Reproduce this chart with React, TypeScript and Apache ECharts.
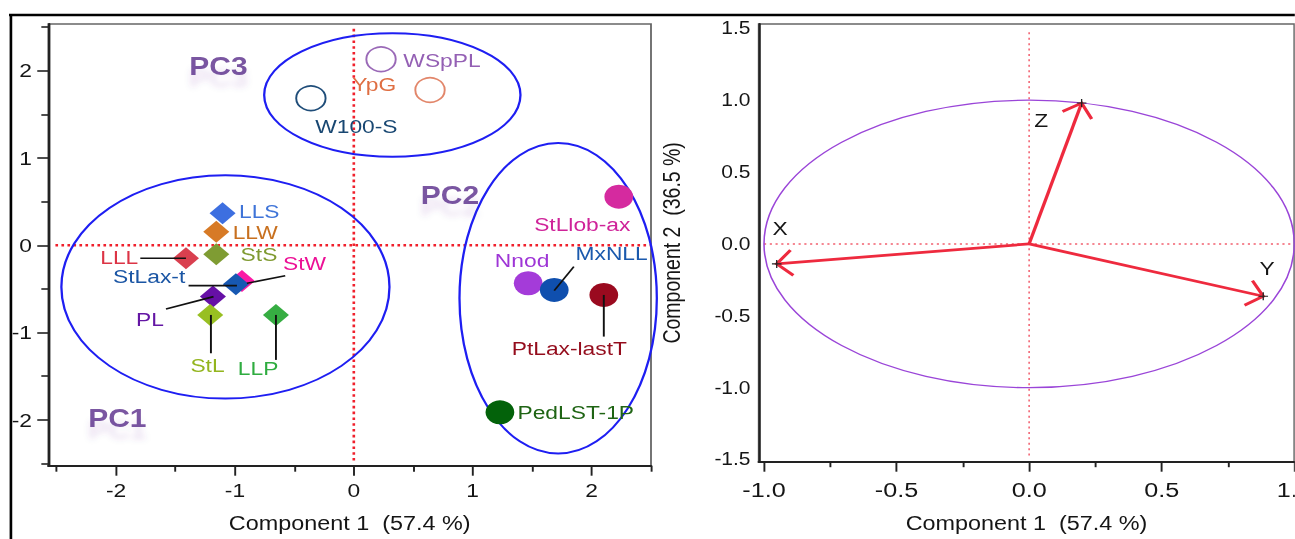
import React, { useEffect, useRef } from "react";
import * as echarts from "echarts";

// ---------- data ----------
const diamondNames = ["LLS", "LLW", "StS", "LLL", "StW", "StLax-t", "PL", "StL", "LLP"];
const diamondX = [-1.104, -1.157, -1.157, -1.412, -0.941, -0.992, -1.185, -1.208, -0.655];
const diamondY = [0.367, 0.156, -0.103, -0.148, -0.408, -0.446, -0.588, -0.798, -0.798];

const solidNames = ["StLlob-ax", "Nnod", "MxNLL", "PtLax-lastT", "PedLST-1P"];
const solidX = [2.229, 1.467, 1.686, 2.103, 1.229];
const solidY = [0.557, -0.435, -0.511, -0.569, -1.913];

const hollowNames = ["WSpPL", "YpG", "W100-S"];
const hollowX = [0.229, 0.641, -0.361];
const hollowY = [2.131, 1.779, 1.684];

const groupNames = ["PC1", "PC2", "PC3"];
const groupLabelX = [-1.989, 0.809, -1.138];
const groupLabelY = [-1.981, 0.577, 2.046];
// [centre x, centre y, radius x, radius y] in data units
const groupEllipses = [
  [-1.08, -0.477, 1.38, 1.279],
  [1.719, -0.607, 0.83, 1.779],
  [0.324, 1.722, 1.078, 0.707],
];
// leader lines [x1, y1, x2, y2]
const leaderLines = [
  [-1.796, -0.148, -1.412, -0.148],
  [-1.39, -0.462, -0.983, -0.462],
  [-0.577, -0.348, -0.899, -0.435],
  [-1.58, -0.729, -1.18, -0.588],
  [-1.202, -0.798, -1.202, -1.237],
  [-0.655, -0.798, -0.655, -1.313],
  [1.851, -0.245, 1.686, -0.519],
  [2.103, -0.569, 2.103, -1.046],
];
const leftZeroH = [[-2.51, 0], [2.49, 0]];
const leftZeroV = [[0, 2.48], [0, -2.5]];

const loadingNames = ["X", "Y", "Z"];
const loadingX = [-0.952, 0.883, 0.198];
const loadingY = [-0.139, -0.364, 0.98];
const unitCircle = [[0, 0, 1, 1]];
const rightZeroH = [[-1.0, 0], [0.99, 0]];
const rightZeroV = [[0, 1.472], [0, -1.488]];

const leftXMajor = [-2, -1, 0, 1, 2];
const leftXMinor = [-2.5, -1.5, -0.5, 0.5, 1.5, 2.5];
const leftYMajor = [-2, -1, 0, 1, 2];
const leftYMinor = [-2.5, -1.5, -0.5, 0.5, 1.5, 2.5];
const rightXMajor = [-1, -0.5, 0, 0.5, 1];
const rightXMinor = [-0.75, -0.25, 0.25, 0.75];
const rightYLabels = [-1.5, -1, -0.5, 0, 0.5, 1, 1.5];

const xTitle = "Component 1  (57.4 %)";
const yTitleRight = "Component 2  (36.5 %)";

// ---------- styles / layout ----------
const S = 1.2; // horizontal stretch of the reference
const W = 1295 / S;
const FONT = '"Liberation Sans", Arial, Helvetica, sans-serif';
const TXT = "#151515";

const markerColors: Record<string, string> = {
  LLS: "#3d6fe0", LLW: "#d77a26", StS: "#7f9c33", LLL: "#d9404f", StW: "#fb1aa5",
  "StLax-t": "#1758b2", PL: "#6610a6", StL: "#98bf22", LLP: "#36ad42",
  "StLlob-ax": "#d52a9f", Nnod: "#a43bd9", MxNLL: "#0f4fae", "PtLax-lastT": "#9a0a1f",
  "PedLST-1P": "#03620a", WSpPL: "#9a69b7", YpG: "#e2866a", "W100-S": "#1f4d79",
};
const textColors: Record<string, string> = {
  LLS: "#3f74d8", LLW: "#c8701f", StS: "#7f9a30", LLL: "#dc3445", StW: "#ec1096",
  "StLax-t": "#1a55a4", PL: "#6416a4", StL: "#93b51e", LLP: "#2fac40",
  "StLlob-ax": "#cf2399", Nnod: "#9e35d6", MxNLL: "#1a59ad", "PtLax-lastT": "#940c1c",
  "PedLST-1P": "#1f6414", WSpPL: "#9460b4", YpG: "#df6e42", "W100-S": "#184772",
};
const labelOffsets: Record<string, [number, number]> = {
  LLS: [30.6, -2.3], LLW: [32.5, 0.8], StS: [35.6, -0.5], LLL: [-55.6, -1],
  StW: [52.1, -17.7], "StLax-t": [-72.3, -7.6], PL: [-52.5, 22.3], StL: [-2.25, 50],
  LLP: [-14.9, 53.3], "StLlob-ax": [-30.4, 27.3], Nnod: [-5.1, -22.6], MxNLL: [47.8, -36.7],
  "PtLax-lastT": [-28.75, 53.3], "PedLST-1P": [63.2, 0], WSpPL: [50.8, 0.7],
  YpG: [-46.5, -5.7], "W100-S": [37.9, 27.7], X: [2.8, -35.4], Y: [3.2, -28.2], Z: [-33.75, 17.2],
};

function pointItems(names: string[], xs: number[], ys: number[], hollow = false) {
  return names.map((n, i) => ({
    name: n,
    value: [xs[i], ys[i]],
    itemStyle: hollow
      ? { color: "rgba(255,255,255,0)", borderColor: markerColors[n], borderWidth: 1.6, opacity: 1 }
      : { color: markerColors[n], opacity: 1 },
    label: { color: textColors[n], offset: labelOffsets[n] },
  }));
}

const pointLabel = {
  show: true,
  position: "inside",
  formatter: "{b}",
  fontSize: 19,
  lineHeight: 16,
  fontFamily: FONT,
  align: "center",
  verticalAlign: "middle",
};

function buildOption(): any {
  const axisLineStyle = { color: "#222", width: 2 };
  const tickStyle = { color: "#222", width: 1.6 };
  const labelBase = { color: TXT, fontFamily: FONT };
  const nameStyle = { fontSize: 19.5, color: TXT, fontFamily: FONT };
  const hidden = { show: false };
  const fmt1 = (v: number) => v.toFixed(1);

  return {
    animation: false,
    backgroundColor: "#ffffff",
    grid: [
      { left: 40.25, top: 24, width: 502.25, height: 441.7, show: true, borderColor: "#666", borderWidth: 1.5, containLabel: false, outerBoundsMode: "none" },
      { left: 632.25, top: 24, width: 446.3, height: 437.7, show: true, borderColor: "#666", borderWidth: 1.5, containLabel: false, outerBoundsMode: "none" },
    ],
    xAxis: [
      {
        type: "value", gridIndex: 0, min: -2.57, max: 2.5, position: "bottom",
        axisLine: { show: true, onZero: false, lineStyle: axisLineStyle },
        axisTick: { show: true, length: 10, customValues: leftXMajor, lineStyle: tickStyle },
        axisLabel: { ...labelBase, show: true, customValues: leftXMajor, fontSize: 19, margin: 15 },
        splitLine: hidden,
        name: xTitle, nameLocation: "middle", nameGap: 47.5, nameTextStyle: nameStyle,
      },
      {
        type: "value", gridIndex: 0, min: -2.57, max: 2.5, position: "bottom",
        axisLine: { show: false, onZero: false },
        axisTick: { show: true, length: 6, customValues: leftXMinor, lineStyle: tickStyle },
        axisLabel: hidden, splitLine: hidden,
      },
      {
        type: "value", gridIndex: 1, min: -1.02, max: 1.0, position: "bottom",
        axisLine: { show: true, onZero: false, lineStyle: axisLineStyle },
        axisTick: { show: true, length: 10, customValues: rightXMajor, lineStyle: tickStyle },
        axisLabel: { ...labelBase, show: true, customValues: rightXMajor, fontSize: 21, margin: 17.5, formatter: fmt1 },
        splitLine: hidden,
        name: xTitle, nameLocation: "middle", nameGap: 52, nameTextStyle: nameStyle,
      },
      {
        type: "value", gridIndex: 1, min: -1.02, max: 1.0, position: "bottom",
        axisLine: { show: false, onZero: false },
        axisTick: { show: true, length: 5.5, customValues: rightXMinor, lineStyle: tickStyle },
        axisLabel: hidden, splitLine: hidden,
      },
    ],
    yAxis: [
      {
        type: "value", gridIndex: 0, min: -2.525, max: 2.535, position: "left",
        axisLine: { show: true, onZero: false, lineStyle: axisLineStyle },
        axisTick: { show: true, length: 9.2, customValues: leftYMajor, lineStyle: tickStyle },
        axisLabel: { ...labelBase, show: true, customValues: leftYMajor, fontSize: 19, margin: 13.6 },
        splitLine: hidden,
      },
      {
        type: "value", gridIndex: 0, min: -2.525, max: 2.535, position: "left",
        axisLine: { show: false, onZero: false },
        axisTick: { show: true, length: 5.8, customValues: leftYMinor, lineStyle: tickStyle },
        axisLabel: hidden, splitLine: hidden,
      },
      {
        type: "value", gridIndex: 1, min: -1.515, max: 1.53, position: "left",
        axisLine: { show: true, onZero: false, lineStyle: axisLineStyle },
        axisTick: { show: false },
        axisLabel: { ...labelBase, show: true, customValues: rightYLabels, fontSize: 17.5, margin: 6.8, formatter: fmt1 },
        splitLine: hidden,
        name: yTitleRight, nameLocation: "middle", nameGap: 62, nameRotate: 90, nameTextStyle: nameStyle,
      },
    ],
    graphic: [
      { type: "line", shape: { x1: 7.5, y1: 15, x2: W + 2, y2: 15 }, style: { stroke: "#000", lineWidth: 2.6 }, z: 100 },
      { type: "line", shape: { x1: 9.1, y1: 14, x2: 9.1, y2: 545 }, style: { stroke: "#000", lineWidth: 2.2 }, z: 100 },
    ],
    series: [
      // ---- left: zero reference lines
      {
        type: "line", xAxisIndex: 0, yAxisIndex: 0, data: leftZeroH, symbol: "none", silent: true, z: 1,
        lineStyle: { color: "#f0202c", width: 2.4, type: [2.2, 2.8] },
      },
      {
        type: "line", xAxisIndex: 0, yAxisIndex: 0, data: leftZeroV, symbol: "none", silent: true, z: 1,
        lineStyle: { color: "#f0202c", width: 2.2, type: [2.6, 3.2] },
      },
      // ---- left: group ellipses
      {
        type: "custom", xAxisIndex: 0, yAxisIndex: 0, data: groupEllipses, silent: true, z: 2, clip: false,
        renderItem: (_p: any, api: any) => {
          const c = api.coord([api.value(0), api.value(1)]);
          const s = api.size([api.value(2), api.value(3)]);
          return {
            type: "ellipse",
            shape: { cx: c[0], cy: c[1], rx: s[0], ry: s[1] },
            style: { fill: "none", stroke: "#1e1ef2", lineWidth: 1.9 },
          };
        },
      },
      // ---- left: markers
      {
        type: "scatter", xAxisIndex: 0, yAxisIndex: 0, symbol: "diamond", symbolSize: [21.7, 22], z: 3,
        data: pointItems(diamondNames, diamondX, diamondY), label: pointLabel,
      },
      {
        type: "scatter", xAxisIndex: 0, yAxisIndex: 0, symbol: "circle", symbolSize: 24, z: 3,
        data: pointItems(solidNames, solidX, solidY), label: pointLabel,
      },
      {
        type: "scatter", xAxisIndex: 0, yAxisIndex: 0, symbol: "circle", symbolSize: 24.5, z: 3,
        data: pointItems(hollowNames, hollowX, hollowY, true), label: pointLabel,
      },
      // ---- left: leader lines
      {
        type: "custom", xAxisIndex: 0, yAxisIndex: 0, data: leaderLines, silent: true, z: 4, clip: false,
        renderItem: (_p: any, api: any) => {
          const a = api.coord([api.value(0), api.value(1)]);
          const b = api.coord([api.value(2), api.value(3)]);
          return {
            type: "line",
            shape: { x1: a[0], y1: a[1], x2: b[0], y2: b[1] },
            style: { stroke: "#111", lineWidth: 1.6 },
          };
        },
      },
      // ---- left: group labels
      {
        type: "scatter", xAxisIndex: 0, yAxisIndex: 0, symbol: "circle", symbolSize: 1, z: 5, silent: true,
        itemStyle: { color: "rgba(0,0,0,0)" },
        data: groupNames.map((n, i) => ({ name: n, value: [groupLabelX[i], groupLabelY[i]] })),
        label: {
          show: true, position: "inside", formatter: "{b}", fontSize: 25, fontWeight: "bold",
          fontFamily: FONT, color: "#582a8a", align: "center", verticalAlign: "middle",
          textShadowColor: "rgba(91,44,140,0.16)", textShadowBlur: 6, textShadowOffsetY: 12,
        },
      },
      // ---- right: zero reference lines
      {
        type: "line", xAxisIndex: 2, yAxisIndex: 2, data: rightZeroH, symbol: "none", silent: true, z: 1,
        lineStyle: { color: "#f2606f", width: 1.4, type: [1.8, 3] },
      },
      {
        type: "line", xAxisIndex: 2, yAxisIndex: 2, data: rightZeroV, symbol: "none", silent: true, z: 1,
        lineStyle: { color: "#f2606f", width: 1.3, type: [2, 3.4] },
      },
      // ---- right: correlation circle
      {
        type: "custom", xAxisIndex: 2, yAxisIndex: 2, data: unitCircle, silent: true, z: 2, clip: false,
        renderItem: (_p: any, api: any) => {
          const c = api.coord([api.value(0), api.value(1)]);
          const s = api.size([api.value(2), api.value(3)]);
          return {
            type: "ellipse",
            shape: { cx: c[0], cy: c[1], rx: s[0], ry: s[1] },
            style: { fill: "none", stroke: "#9a45d8", lineWidth: 1.3 },
          };
        },
      },
      // ---- right: loading arrows
      {
        type: "custom", xAxisIndex: 2, yAxisIndex: 2, silent: true, z: 3, clip: false,
        data: loadingNames.map((n, i) => [loadingX[i], loadingY[i]]),
        renderItem: (_p: any, api: any) => {
          const o = api.coord([0, 0]);
          const t = api.coord([api.value(0), api.value(1)]);
          const back = Math.atan2(o[1] - t[1], o[0] - t[0]);
          const L = 18;
          const a = Math.PI / 4;
          const w1 = [t[0] + L * Math.cos(back + a), t[1] + L * Math.sin(back + a)];
          const w2 = [t[0] + L * Math.cos(back - a), t[1] + L * Math.sin(back - a)];
          const st = { stroke: "#ee2a3e", lineWidth: 2.8, fill: "none" };
          return {
            type: "group",
            children: [
              { type: "line", shape: { x1: o[0], y1: o[1], x2: t[0], y2: t[1] }, style: st },
              { type: "polyline", shape: { points: [w1, t, w2] }, style: st },
            ],
          };
        },
      },
      // ---- right: tip marks + labels
      {
        type: "scatter", xAxisIndex: 2, yAxisIndex: 2, z: 4, silent: true,
        symbol: "path://M0,5L10,5M5,0L5,10", symbolSize: 8,
        itemStyle: { color: "none", borderColor: "#222", borderWidth: 1.1, opacity: 1 },
        data: loadingNames.map((n, i) => ({ name: n, value: [loadingX[i], loadingY[i]], label: { offset: labelOffsets[n] } })),
        label: { ...pointLabel, fontSize: 19, color: TXT },
      },
    ],
  };
}

export default function App() {
  const ref = useRef<HTMLDivElement>(null);
  useEffect(() => {
    if (!ref.current) return;
    const chart = echarts.init(ref.current, null, { renderer: "svg" });
    chart.setOption(buildOption());
    return () => chart.dispose();
  }, []);
  return (
    <div
      ref={ref}
      style={{
        position: "fixed",
        left: 0,
        top: 0,
        width: W,
        height: 539,
        transform: `scaleX(${S})`,
        transformOrigin: "0 0",
        background: "#fff",
      }}
    />
  );
}
